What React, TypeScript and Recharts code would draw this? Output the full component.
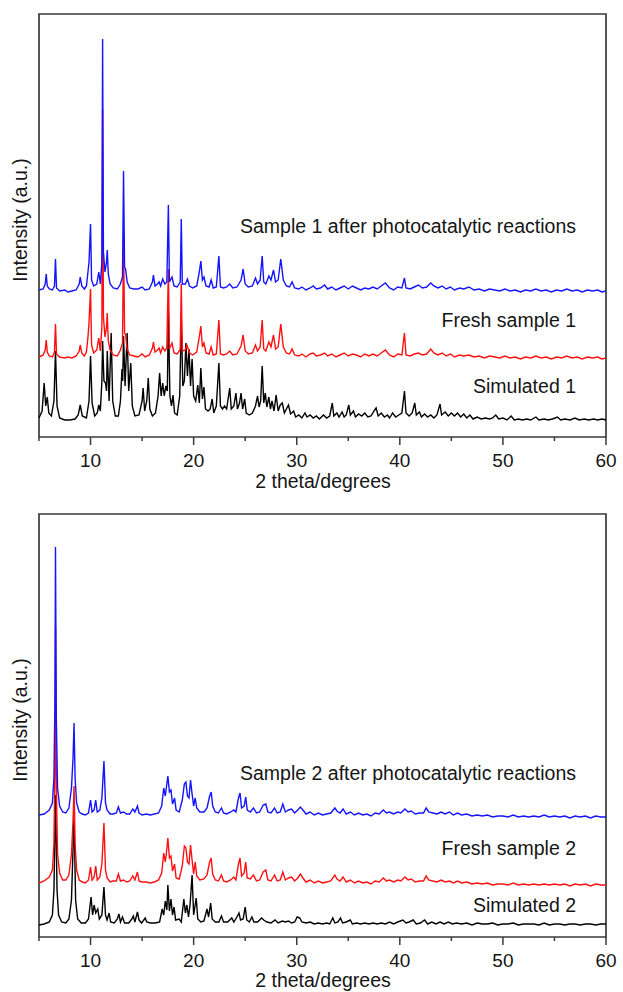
import React from 'react';
import { LineChart, Line, XAxis, YAxis, ReferenceArea } from 'recharts';

const FONT = '"Liberation Sans", Arial, Helvetica, sans-serif';
const TEXT = '#151515';
const FRAME = '#3a3a3a';

const xTicks = [5, 10, 15, 20, 25, 30, 35, 40, 45, 50, 55, 60];

type Pt = [number, number];

// ---------- Panel 1 (sample 1) ----------
const sample1After: Pt[] = [
  [5.0,2],[5.4,3],[5.6,8],[5.7,18],[5.8,6],[6.0,3],[6.3,2],[6.5,6],[6.6,33],[6.7,4],[7.0,1],[7.5,2],[7.8,0],[8.2,1],[8.6,2],[8.9,8],[9.0,15],[9.15,6],[9.4,3],[9.6,6],[9.75,20],[9.85,30],[10.0,68],[10.1,12],[10.3,6],[10.6,8],[10.8,20],[10.95,8],[11.1,30],[11.17,253],[11.25,40],[11.4,20],[11.55,30],[11.62,42],[11.72,18],[11.9,8],[12.2,4],[12.6,3],[12.9,8],[13.1,15],[13.2,121],[13.3,25],[13.4,23],[13.55,10],[13.8,4],[14.2,3],[14.6,3],[15.0,5],[15.3,2],[15.7,3],[16.0,10],[16.1,17],[16.25,6],[16.5,8],[16.65,10],[16.8,6],[17.0,13],[17.2,8],[17.4,10],[17.55,87],[17.65,10],[17.9,15],[18.1,6],[18.4,5],[18.7,10],[18.8,73],[18.9,8],[19.2,8],[19.4,13],[19.6,6],[19.9,4],[20.3,6],[20.55,20],[20.7,31],[20.85,12],[21.0,15],[21.2,6],[21.5,5],[21.7,12],[21.9,4],[22.2,5],[22.45,36],[22.6,5],[22.9,4],[23.2,5],[23.5,8],[23.8,4],[24.2,5],[24.6,12],[24.8,23],[25.0,8],[25.3,5],[25.7,6],[26.0,14],[26.2,8],[26.45,12],[26.65,36],[26.8,10],[27.0,8],[27.3,16],[27.5,12],[27.75,22],[27.95,10],[28.2,12],[28.45,33],[28.7,12],[29.0,6],[29.3,5],[29.55,10],[29.8,4],[30.2,3],[30.5,5],[30.9,2],[31.3,4],[31.6,6],[31.9,3],[32.3,4],[32.7,7],[33.0,3],[33.4,5],[33.8,2],[34.2,4],[34.6,6],[35.0,3],[35.4,6],[35.8,4],[36.2,2],[36.6,4],[37.0,3],[37.4,5],[37.8,3],[38.2,6],[38.6,9],[39.0,4],[39.4,2],[39.8,5],[40.2,4],[40.45,14],[40.6,4],[41.0,3],[41.4,5],[41.8,7],[42.2,4],[42.6,5],[43.0,9],[43.3,6],[43.7,4],[44.1,6],[44.5,3],[44.9,5],[45.3,2],[45.8,4],[46.2,3],[46.7,5],[47.2,2],[47.7,3],[48.2,1],[48.7,3],[49.2,2],[49.7,1],[50.2,3],[50.7,1],[51.2,2],[51.7,0],[52.2,2],[52.7,1],[53.2,3],[53.7,1],[54.2,2],[54.7,0],[55.2,2],[55.7,1],[56.2,3],[56.7,1],[57.2,2],[57.7,0],[58.2,2],[58.7,1],[59.2,2],[59.6,0],[60.0,1],
];

const fresh1: Pt[] = [
  [5.0,2],[5.4,4],[5.6,9],[5.7,19],[5.8,7],[6.0,3],[6.3,2],[6.5,7],[6.6,35],[6.7,5],[7.0,2],[7.5,1],[7.8,2],[8.2,1],[8.6,3],[8.9,8],[9.0,14],[9.15,6],[9.4,3],[9.6,7],[9.75,22],[9.85,36],[10.0,70],[10.1,14],[10.3,6],[10.6,9],[10.8,21],[10.95,8],[11.1,32],[11.17,250],[11.25,42],[11.4,22],[11.55,32],[11.62,46],[11.72,18],[11.9,9],[12.2,4],[12.6,3],[12.9,9],[13.1,16],[13.2,125],[13.3,26],[13.4,24],[13.55,10],[13.8,4],[14.2,3],[14.6,2],[15.0,5],[15.3,2],[15.7,4],[16.0,11],[16.1,17],[16.25,7],[16.5,9],[16.65,11],[16.8,6],[17.0,12],[17.2,8],[17.4,11],[17.55,90],[17.65,10],[17.9,16],[18.1,6],[18.4,5],[18.7,10],[18.8,75],[18.9,8],[19.2,9],[19.35,14],[19.6,6],[19.9,4],[20.3,7],[20.55,22],[20.7,33],[20.85,12],[21.0,16],[21.2,6],[21.5,5],[21.7,12],[21.9,4],[22.2,5],[22.45,39],[22.6,5],[22.9,4],[23.2,5],[23.5,8],[23.8,4],[24.2,5],[24.6,13],[24.8,24],[25.0,8],[25.3,5],[25.7,6],[26.0,14],[26.2,8],[26.45,12],[26.65,39],[26.8,10],[27.0,8],[27.3,17],[27.5,12],[27.75,24],[27.95,10],[28.2,12],[28.45,35],[28.7,12],[29.0,6],[29.3,5],[29.55,10],[29.8,4],[30.2,3],[30.5,5],[30.9,2],[31.3,5],[31.6,6],[31.9,3],[32.3,4],[32.7,6],[33.0,3],[33.4,5],[33.8,2],[34.2,4],[34.6,6],[35.0,3],[35.4,5],[35.8,4],[36.2,2],[36.6,5],[37.0,3],[37.4,5],[37.8,3],[38.2,6],[38.6,9],[39.0,4],[39.4,2],[39.8,5],[40.2,4],[40.45,26],[40.6,4],[41.0,3],[41.4,5],[41.8,6],[42.2,4],[42.6,5],[43.0,10],[43.3,6],[43.7,4],[44.1,6],[44.5,3],[44.9,5],[45.3,2],[45.8,4],[46.2,3],[46.7,4],[47.2,2],[47.7,3],[48.2,1],[48.7,3],[49.2,2],[49.7,1],[50.2,3],[50.7,1],[51.2,2],[51.7,0],[52.2,2],[52.7,1],[53.2,3],[53.7,1],[54.2,2],[54.7,0],[55.2,2],[55.7,1],[56.2,3],[56.7,1],[57.2,2],[57.7,0],[58.2,2],[58.7,1],[59.2,2],[59.6,0],[60.0,1],
];

const simulated1: Pt[] = [
  [5.0,3],[5.3,10],[5.5,38],[5.65,15],[5.8,24],[5.95,8],[6.2,5],[6.45,20],[6.6,70],[6.75,15],[7.0,3],[7.5,1],[8.0,1],[8.5,2],[8.8,6],[9.0,16],[9.2,5],[9.6,3],[9.85,20],[10.0,65],[10.15,18],[10.4,5],[10.65,8],[10.8,16],[10.95,10],[11.1,40],[11.17,80],[11.3,40],[11.45,38],[11.55,30],[11.62,70],[11.8,20],[12.0,88],[12.15,20],[12.4,5],[12.7,5],[12.9,20],[13.05,52],[13.12,40],[13.2,85],[13.35,35],[13.55,88],[13.7,30],[13.9,58],[14.05,15],[14.3,5],[14.7,6],[15.0,20],[15.1,33],[15.25,10],[15.45,20],[15.6,43],[15.75,12],[16.0,5],[16.3,8],[16.55,25],[16.7,48],[16.85,25],[17.0,38],[17.15,25],[17.3,35],[17.45,30],[17.55,110],[17.7,25],[17.85,15],[18.0,26],[18.15,8],[18.4,6],[18.65,25],[18.8,105],[18.95,35],[19.1,40],[19.25,78],[19.4,45],[19.55,72],[19.7,35],[19.85,62],[20.0,25],[20.2,20],[20.4,36],[20.55,18],[20.7,53],[20.85,22],[21.0,34],[21.15,12],[21.4,10],[21.6,12],[21.8,22],[21.95,8],[22.2,15],[22.45,58],[22.6,15],[22.8,12],[23.0,15],[23.2,12],[23.5,33],[23.65,12],[23.9,15],[24.1,28],[24.25,12],[24.45,18],[24.6,28],[24.75,12],[24.95,22],[25.1,8],[25.4,6],[25.7,8],[26.0,15],[26.2,25],[26.35,14],[26.5,20],[26.65,55],[26.8,18],[26.95,28],[27.1,14],[27.3,24],[27.45,12],[27.6,20],[27.8,10],[28.0,26],[28.2,10],[28.4,16],[28.6,18],[28.8,8],[29.0,12],[29.2,16],[29.4,7],[29.7,10],[29.9,4],[30.2,6],[30.5,3],[30.8,8],[31.0,4],[31.3,6],[31.6,3],[31.9,5],[32.2,2],[32.6,6],[32.9,3],[33.2,5],[33.45,18],[33.6,5],[33.9,8],[34.1,4],[34.4,9],[34.6,4],[34.8,6],[35.05,16],[35.2,6],[35.5,10],[35.7,4],[36.0,7],[36.3,5],[36.6,8],[36.9,4],[37.2,5],[37.5,10],[37.7,13],[37.9,5],[38.2,8],[38.5,4],[38.8,6],[39.0,3],[39.3,8],[39.6,4],[39.9,6],[40.2,8],[40.45,30],[40.6,8],[40.9,5],[41.2,8],[41.45,18],[41.6,6],[41.9,9],[42.1,4],[42.4,7],[42.7,4],[43.0,6],[43.3,3],[43.6,6],[43.9,17],[44.05,6],[44.4,9],[44.7,5],[45.0,8],[45.3,5],[45.6,8],[45.9,4],[46.2,7],[46.5,3],[46.8,6],[47.1,2],[47.5,4],[47.9,2],[48.3,3],[48.7,2],[49.0,3],[49.3,6],[49.6,2],[50.0,3],[50.4,1],[50.8,5],[51.1,1],[51.5,2],[51.9,1],[52.3,2],[52.7,1],[53.2,4],[53.5,1],[54.0,2],[54.4,1],[54.8,2],[55.3,4],[55.6,1],[56.0,2],[56.5,1],[57.0,3],[57.4,1],[57.9,2],[58.3,1],[58.8,2],[59.2,1],[59.6,2],[60.0,1],
];

// ---------- Panel 2 (sample 2) ----------
const sample2After: Pt[] = [
  [5.0,3],[5.5,4],[6.0,8],[6.3,15],[6.45,40],[6.55,120],[6.6,271],[6.68,100],[6.8,30],[7.0,12],[7.3,6],[7.6,5],[7.9,10],[8.15,30],[8.3,60],[8.4,95],[8.5,40],[8.65,15],[8.9,6],[9.2,4],[9.5,3],[9.8,5],[10.0,18],[10.15,6],[10.35,8],[10.5,18],[10.65,6],[10.9,8],[11.1,20],[11.3,57],[11.45,15],[11.6,8],[11.9,4],[12.2,4],[12.5,5],[12.7,11],[12.9,5],[13.2,6],[13.5,4],[13.8,4],[14.1,9],[14.3,6],[14.55,12],[14.7,5],[15.0,3],[15.4,4],[15.8,3],[16.2,4],[16.6,5],[16.9,12],[17.1,30],[17.25,22],[17.35,30],[17.5,42],[17.65,26],[17.8,28],[17.95,14],[18.15,20],[18.3,8],[18.6,6],[18.9,18],[19.1,34],[19.25,36],[19.4,22],[19.55,20],[19.7,38],[19.85,24],[20.0,12],[20.15,20],[20.3,10],[20.6,6],[21.0,6],[21.3,10],[21.55,22],[21.7,26],[21.85,12],[22.1,6],[22.4,5],[22.7,10],[22.9,5],[23.2,4],[23.6,6],[23.9,8],[24.1,6],[24.35,20],[24.5,25],[24.65,10],[24.9,12],[25.05,21],[25.2,8],[25.5,6],[25.8,10],[26.1,5],[26.4,6],[26.75,13],[27.0,14],[27.2,6],[27.5,5],[27.85,10],[28.1,5],[28.4,6],[28.65,14],[28.9,6],[29.2,8],[29.5,9],[29.8,5],[30.1,8],[30.35,11],[30.6,8],[30.9,4],[31.3,6],[31.7,3],[32.1,5],[32.5,3],[32.9,4],[33.3,5],[33.7,10],[33.9,7],[34.2,5],[34.5,9],[34.8,4],[35.2,6],[35.6,3],[36.0,5],[36.4,3],[36.8,4],[37.2,2],[37.6,5],[38.0,4],[38.4,8],[38.7,5],[39.0,6],[39.4,4],[39.8,6],[40.1,5],[40.5,9],[40.8,6],[41.1,7],[41.5,4],[41.9,5],[42.3,5],[42.55,10],[42.8,6],[43.2,5],[43.6,4],[44.0,6],[44.4,4],[44.8,6],[45.2,3],[45.6,5],[46.0,3],[46.5,4],[47.0,2],[47.5,3],[48.0,2],[48.5,3],[49.0,1],[49.5,2],[50.0,2],[50.5,1],[51.0,3],[51.5,1],[52.0,2],[52.5,1],[53.0,2],[53.5,1],[54.0,3],[54.5,1],[55.0,2],[55.5,1],[56.0,2],[56.5,0],[57.0,2],[57.5,1],[58.0,2],[58.5,0],[59.0,2],[59.5,1],[60.0,1],
];

const fresh2: Pt[] = [
  [5.0,3],[5.5,5],[6.0,9],[6.3,16],[6.45,42],[6.55,125],[6.6,260],[6.68,100],[6.8,32],[7.0,13],[7.3,6],[7.6,6],[7.9,11],[8.15,32],[8.3,65],[8.4,100],[8.5,42],[8.65,16],[8.9,6],[9.2,4],[9.5,3],[9.8,6],[10.0,19],[10.15,6],[10.35,9],[10.5,20],[10.65,6],[10.9,9],[11.1,22],[11.3,63],[11.45,16],[11.6,8],[11.9,4],[12.2,5],[12.5,5],[12.7,12],[12.9,5],[13.2,6],[13.5,4],[13.8,5],[14.1,10],[14.3,6],[14.55,14],[14.7,5],[15.0,4],[15.4,4],[15.8,3],[16.2,4],[16.6,6],[16.9,13],[17.1,33],[17.25,24],[17.35,32],[17.5,48],[17.65,28],[17.8,30],[17.95,15],[18.15,22],[18.3,8],[18.6,7],[18.9,20],[19.1,40],[19.25,38],[19.4,24],[19.55,22],[19.7,41],[19.85,26],[20.0,12],[20.15,24],[20.3,10],[20.6,6],[21.0,7],[21.3,11],[21.55,24],[21.7,28],[21.85,12],[22.1,6],[22.4,5],[22.7,11],[22.9,5],[23.2,4],[23.6,6],[23.9,9],[24.1,6],[24.35,22],[24.5,28],[24.65,10],[24.9,13],[25.05,24],[25.2,8],[25.5,7],[25.8,11],[26.1,5],[26.4,6],[26.75,14],[27.0,16],[27.2,6],[27.5,5],[27.85,11],[28.1,5],[28.4,6],[28.65,14],[28.9,6],[29.2,8],[29.5,9],[29.8,5],[30.1,8],[30.35,12],[30.6,8],[30.9,4],[31.3,6],[31.7,3],[32.1,5],[32.5,3],[32.9,4],[33.3,5],[33.7,11],[33.9,7],[34.2,5],[34.5,9],[34.8,4],[35.2,6],[35.6,3],[36.0,5],[36.4,3],[36.8,4],[37.2,2],[37.6,5],[38.0,4],[38.4,8],[38.7,5],[39.0,6],[39.4,4],[39.8,6],[40.1,5],[40.5,9],[40.8,6],[41.1,7],[41.5,4],[41.9,5],[42.3,5],[42.55,10],[42.8,6],[43.2,5],[43.6,4],[44.0,6],[44.4,4],[44.8,5],[45.2,3],[45.6,5],[46.0,3],[46.5,4],[47.0,2],[47.5,3],[48.0,2],[48.5,3],[49.0,1],[49.5,2],[50.0,2],[50.5,1],[51.0,3],[51.5,1],[52.0,2],[52.5,1],[53.0,2],[53.5,1],[54.0,2],[54.5,1],[55.0,2],[55.5,1],[56.0,2],[56.5,0],[57.0,2],[57.5,1],[58.0,2],[58.5,0],[59.0,2],[59.5,1],[60.0,1],
];

const simulated2: Pt[] = [
  [5.0,0],[5.5,1],[6.0,3],[6.3,10],[6.45,35],[6.6,130],[6.75,35],[6.9,10],[7.2,3],[7.6,2],[7.9,6],[8.15,25],[8.4,110],[8.55,25],[8.75,6],[9.1,2],[9.5,2],[9.8,6],[10.05,28],[10.2,10],[10.35,20],[10.5,12],[10.7,16],[10.85,6],[11.1,10],[11.3,38],[11.45,10],[11.6,5],[11.8,12],[11.95,3],[12.3,2],[12.6,6],[12.75,11],[12.9,3],[13.1,8],[13.3,2],[13.7,2],[14.0,6],[14.15,9],[14.3,3],[14.55,13],[14.7,5],[14.95,2],[15.3,7],[15.45,3],[15.8,2],[16.3,2],[16.7,3],[16.95,16],[17.1,10],[17.25,24],[17.4,15],[17.5,40],[17.65,14],[17.8,26],[17.95,10],[18.1,18],[18.25,5],[18.6,6],[18.8,3],[19.05,26],[19.2,12],[19.35,20],[19.5,8],[19.65,20],[19.85,50],[20.0,10],[20.25,27],[20.4,6],[20.7,3],[21.0,4],[21.3,16],[21.45,8],[21.65,22],[21.8,6],[22.1,3],[22.45,3],[22.7,9],[22.9,3],[23.3,3],[23.7,7],[23.9,3],[24.2,8],[24.4,12],[24.55,5],[24.8,6],[25.0,18],[25.15,5],[25.4,3],[25.65,8],[25.85,3],[26.2,3],[26.6,7],[26.8,5],[27.1,3],[27.5,2],[27.9,5],[28.2,2],[28.6,4],[28.9,3],[29.2,4],[29.5,2],[29.8,3],[30.05,8],[30.3,7],[30.5,3],[30.9,2],[31.3,3],[31.7,1],[32.1,2],[32.5,1],[32.9,2],[33.2,1],[33.5,7],[33.7,2],[34.0,3],[34.25,7],[34.45,2],[34.8,3],[35.2,5],[35.4,1],[35.8,2],[36.2,1],[36.6,2],[37.0,1],[37.4,2],[37.8,1],[38.2,2],[38.6,1],[39.0,3],[39.4,1],[39.8,3],[40.3,5],[40.6,2],[40.9,3],[41.3,5],[41.6,1],[42.0,2],[42.4,5],[42.7,1],[43.1,3],[43.5,1],[43.9,3],[44.3,1],[44.7,3],[45.1,1],[45.5,2],[46.0,1],[46.5,2],[47.0,0],[47.5,2],[48.0,1],[48.5,1],[49.0,2],[49.5,0],[50.0,1],[50.5,1],[51.0,2],[51.5,0],[52.0,1],[52.5,1],[53.0,1],[53.5,0],[54.0,2],[54.5,0],[55.0,1],[55.5,1],[56.0,0],[56.5,1],[57.0,1],[57.5,0],[58.0,1],[58.5,1],[59.0,0],[59.5,1],[60.0,1],
];

const panel1Labels = ['Sample 1 after photocatalytic reactions', 'Fresh sample 1', 'Simulated 1'];
const panel2Labels = ['Sample 2 after photocatalytic reactions', 'Fresh sample 2', 'Simulated 2'];

// plot units = px above the bottom axis
const PLOT_H = 423;

const toData = (pts: Pt[], off: number) => pts.map(([x, v]) => ({ x, y: v + off }));

const XTick = (props: any) => {
  const { x, y, payload } = props;
  const v = payload.value as number;
  const major = v % 10 === 0;
  return (
    <g>
      <line x1={x} x2={x} y1={y} y2={y + (major ? 8 : 4)} stroke={FRAME} strokeWidth={1.5} />
      {major && (
        <text x={x} y={y + 30} textAnchor="middle" fontFamily={FONT} fontSize={19} fill={TEXT}>
          {v}
        </text>
      )}
    </g>
  );
};

type PanelProps = {
  top: number;
  axisH: number;
  series: { pts: Pt[]; off: number; color: string; name: string }[];
  labels: string[];
  labelY: number[];
  yLabelCenter: number;
  titleY: number;
};

const Panel = ({ top, axisH, series, labels, labelY, yLabelCenter, titleY }: PanelProps) => (
  <LineChart
    width={623}
    height={496}
    margin={{ top, right: 17, left: 39, bottom: 0 }}
    style={{ fontFamily: FONT }}
  >
    <XAxis
      type="number"
      dataKey="x"
      domain={[5, 60]}
      ticks={xTicks}
      interval={0}
      allowDuplicatedCategory={false}
      axisLine={false}
      tickLine={false}
      tickSize={0}
      tickMargin={0}
      height={axisH}
      tick={<XTick />}
    />
    <YAxis type="number" domain={[0, PLOT_H]} hide allowDataOverflow />
    {series.map((s) => (
      <Line
        key={s.name}
        data={toData(s.pts, s.off)}
        dataKey="y"
        type="linear"
        stroke={s.color}
        strokeWidth={1.4}
        dot={false}
        activeDot={false}
        isAnimationActive={false}
      />
    ))}
    <ReferenceArea x1={5} x2={60} y1={0} y2={PLOT_H} fill="none" stroke={FRAME} strokeWidth={1.7} ifOverflow="visible" />
    {labels.map((t, i) => (
      <text key={t} x={576} y={labelY[i]} textAnchor="end" fontFamily={FONT} fontSize={19.5} fill={TEXT}>
        {t}
      </text>
    ))}
    <text
      x={27}
      y={yLabelCenter}
      transform={`rotate(-90, 27, ${yLabelCenter})`}
      textAnchor="middle"
      fontFamily={FONT}
      fontSize={19.5}
      fill={TEXT}
    >
      Intensity (a.u.)
    </text>
    <text x={323} y={titleY} textAnchor="middle" fontFamily={FONT} fontSize={19.5} fill={TEXT}>
      2 theta/degrees
    </text>
  </LineChart>
);

export default function App() {
  return (
    <div style={{ position: 'absolute', left: 0, top: 0, width: 623, height: 992, background: '#fff' }}>
      <div style={{ position: 'absolute', left: 0, top: 0 }}>
        <Panel
          top={14}
          axisH={59}
          series={[
            { pts: simulated1, off: 16, color: '#000000', name: 'Simulated 1' },
            { pts: fresh1, off: 78, color: '#ff1010', name: 'Fresh sample 1' },
            { pts: sample1After, off: 145, color: '#1414ff', name: 'Sample 1 after' },
          ]}
          labels={panel1Labels}
          labelY={[233, 327, 393]}
          yLabelCenter={220}
          titleY={488}
        />
      </div>
      <div style={{ position: 'absolute', left: 0, top: 496 }}>
        <Panel
          top={18}
          axisH={55}
          series={[
            { pts: simulated2, off: 12, color: '#000000', name: 'Simulated 2' },
            { pts: fresh2, off: 51, color: '#ff1010', name: 'Fresh sample 2' },
            { pts: sample2After, off: 119, color: '#1414ff', name: 'Sample 2 after' },
          ]}
          labels={panel2Labels}
          labelY={[284, 359, 416]}
          yLabelCenter={224}
          titleY={491}
        />
      </div>
    </div>
  );
}
